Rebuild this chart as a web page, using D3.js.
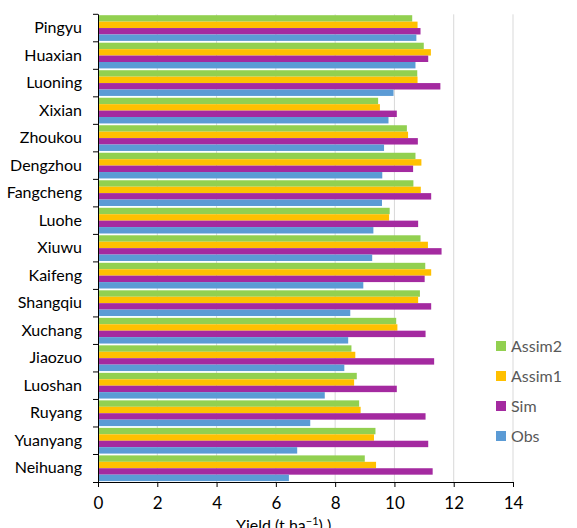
<!DOCTYPE html>
<html>
<head>
<meta charset="utf-8">
<script src="https://cdn.jsdelivr.net/npm/d3@7"></script>
<style>
  body { margin: 0; background: #fff; }
  svg { display: block; font-family: Lato, "Open Sans", sans-serif; }
</style>
</head>
<body>
<div id="content"></div>
<script>
var width = 577;
var height = 528;

var sites = ["Pingyu", "Huaxian", "Luoning", "Xixian", "Zhoukou", "Dengzhou", "Fangcheng", "Luohe",
    "Xiuwu", "Kaifeng", "Shangqiu", "Xuchang", "Jiaozuo", "Luoshan", "Ruyang", "Yuanyang", "Neihuang"];

var series = ["Assim2", "Assim1", "Sim", "Obs"];
var colors = ["#92D050", "#FFC000", "#A42AA0", "#5B9BD5"];

var assim2 = [10.60, 10.99, 10.77, 9.45, 10.42, 10.71, 10.64, 9.84, 10.88, 11.04, 10.86, 10.06, 8.55, 8.73, 8.81, 9.36, 9.00];
var assim1 = [10.78, 11.23, 10.78, 9.51, 10.46, 10.91, 10.89, 9.82, 11.13, 11.24, 10.80, 10.10, 8.68, 8.64, 8.86, 9.31, 9.38];
var sim    = [10.88, 11.14, 11.55, 10.08, 10.79, 10.63, 11.24, 10.80, 11.59, 11.02, 11.24, 11.05, 11.34, 10.08, 11.05, 11.14, 11.29];
var obs    = [10.74, 10.71, 9.97, 9.80, 9.65, 9.59, 9.58, 9.29, 9.25, 8.95, 8.51, 8.44, 8.31, 7.65, 7.16, 6.72, 6.44];

var xTicks = [0, 2, 4, 6, 8, 10, 12, 14];

var values = [assim2, assim1, sim, obs];

var svg = d3.select("#content").append("svg").attr("width", width).attr("height", height);

var x = d3.scaleLinear().domain([0, 14]).range([98, 513]);
var y = d3.scaleBand().domain(sites).range([14.3, 482]);
var yInner = d3.scaleBand().domain(series).range([0, y.bandwidth()]).paddingOuter(0.14).paddingInner(0);

// vertical gridlines
svg.append("g")
    .selectAll("line")
    .data(xTicks.slice(1))
    .enter()
    .append("line")
    .attr("x1", d => x(d)).attr("x2", d => x(d))
    .attr("y1", 14.3).attr("y2", 482)
    .attr("stroke", "#D9D9D9")
    .attr("stroke-width", 1);

// bars
var groups = svg.append("g")
    .selectAll("g")
    .data(sites)
    .enter()
    .append("g")
    .attr("transform", d => `translate(0, ${y(d)})`);

groups.selectAll("rect")
    .data((d, i) => series.map((s, j) => ({ s: s, v: values[j][i], c: colors[j] })))
    .enter()
    .append("rect")
    .attr("x", x(0))
    .attr("y", d => yInner(d.s))
    .attr("width", d => x(d.v) - x(0))
    .attr("height", yInner.bandwidth())
    .attr("fill", d => d.c);

// x axis
var xAxis = svg.append("g")
    .attr("transform", "translate(0, 482)")
    .call(d3.axisBottom(x).tickValues(xTicks).tickSize(5).tickPadding(10).tickFormat(d3.format("d")));
xAxis.select(".domain").attr("stroke", "#000").attr("d", "M93,0.5H513");
xAxis.selectAll(".tick line").attr("stroke", "#000");
xAxis.selectAll("text").attr("font-size", 17).attr("fill", "#000").style("font-family", "Lato, sans-serif");

// y axis
var yAxis = svg.append("g")
    .attr("transform", `translate(${x(0)}, 0)`)
    .call(d3.axisLeft(y).tickSize(0).tickPadding(16));
yAxis.select(".domain").attr("stroke", "#000").attr("d", "M0.5,14.3V482");
yAxis.selectAll("text").attr("font-size", 16).attr("fill", "#000").style("font-family", "Lato, sans-serif");

svg.append("g")
    .selectAll("line")
    .data(sites)
    .enter()
    .append("line")
    .attr("x1", x(0) - 5).attr("x2", x(0))
    .attr("y1", d => y(d)).attr("y2", d => y(d))
    .attr("stroke", "#000");

// axis title
var title = svg.append("text")
    .attr("x", 236)
    .attr("y", 531)
    .attr("font-size", 16)
    .attr("fill", "#000");
title.append("tspan").text("Yield (t ha");
title.append("tspan").attr("dy", -6).attr("font-size", 11).text("\u22121");
title.append("tspan").attr("dy", 6).text(")  )");

// legend
var legend = svg.append("g")
    .selectAll("g")
    .data(series)
    .enter()
    .append("g")
    .attr("transform", (d, i) => `translate(496, ${346 + i * 30})`);

legend.append("rect")
    .attr("x", 0).attr("y", -5)
    .attr("width", 10).attr("height", 10)
    .attr("fill", (d, i) => colors[i]);

legend.append("text")
    .attr("x", 15)
    .attr("y", 0)
    .attr("dy", "0.35em")
    .attr("font-size", 16)
    .attr("fill", "#595959")
    .text(d => d);
</script>
</body>
</html>
